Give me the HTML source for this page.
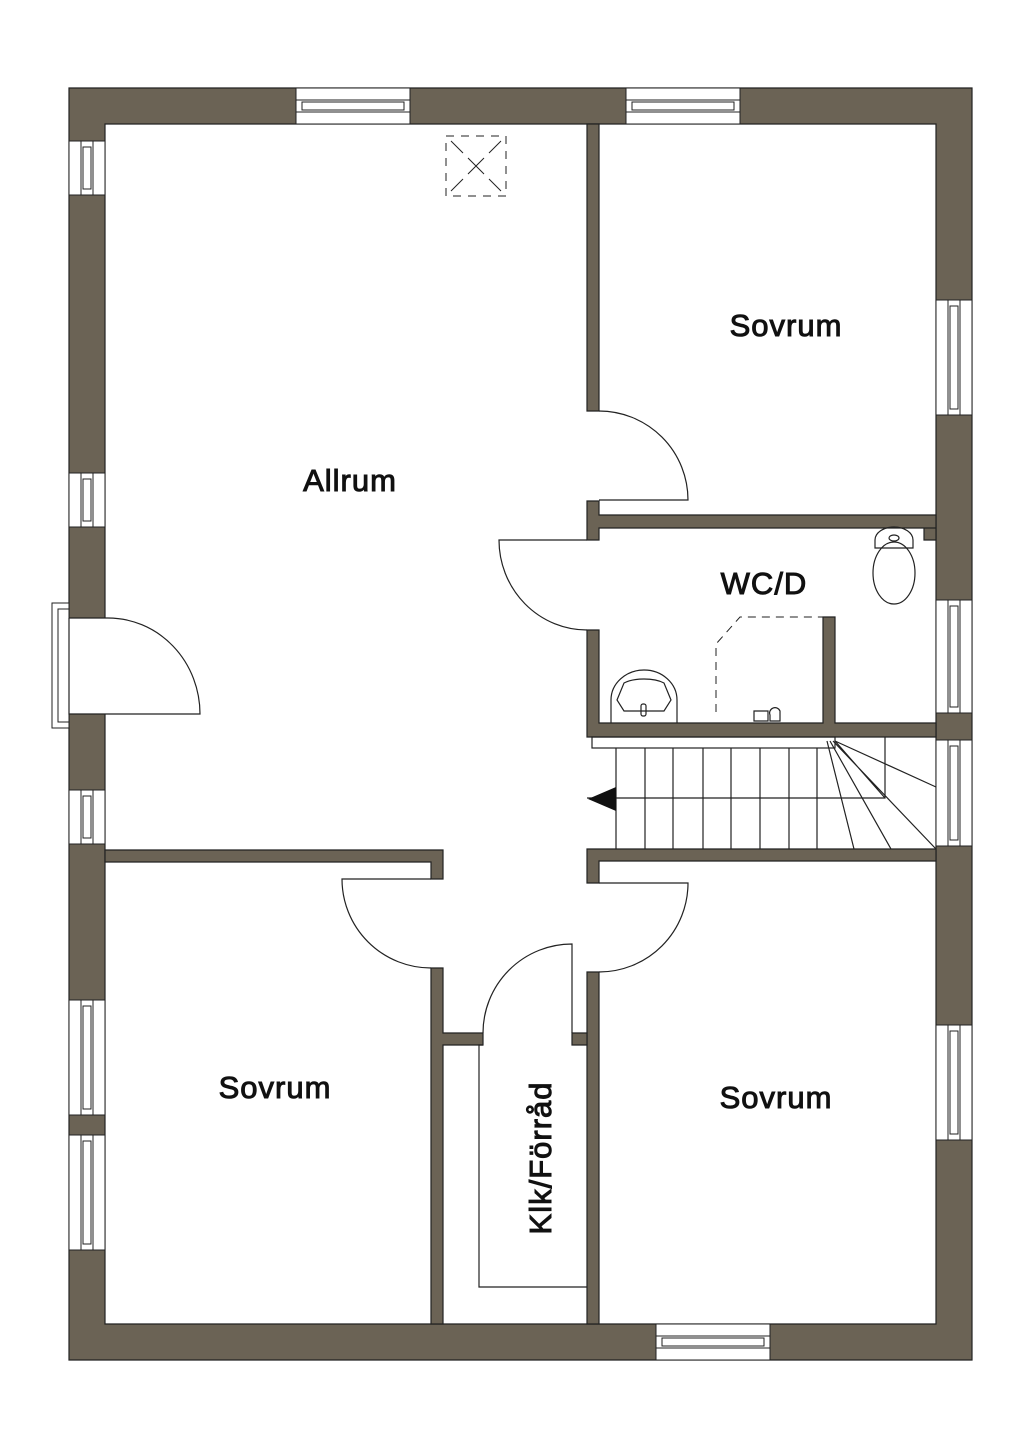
<!DOCTYPE html>
<html><head><meta charset="utf-8"><style>
html,body{margin:0;padding:0;background:#fff}
svg{display:block}
text{font-family:"Liberation Sans",sans-serif;font-size:31px;fill:#111;stroke:#111;stroke-width:1;letter-spacing:1px}
</style></head><body>
<svg width="1024" height="1448" viewBox="0 0 1024 1448" xmlns="http://www.w3.org/2000/svg">
<g fill="#6b6355" stroke="#222" stroke-width="1.2">
<path fill-rule="evenodd" d="M69 88H972V1360H69Z M105 124V1324H936V124Z"/>
<path d="M587 124H599V411H587Z"/>
<path d="M587 501H599V515H936V528H924V540H936V528H599V540H587Z"/>
<path d="M587 630H599V723H823V617H835V723H936V737H587Z"/>
<path d="M587 849H936V861H599V883H587Z"/>
<path d="M587 972H599V1324H587Z"/>
<path d="M105 850H443V879H431V862H105Z"/>
<path d="M431 968H443V1033H483V1045H443V1324H431Z"/>
<path d="M572 1033H587V1045H572Z"/>
</g>
<g fill="#fff" stroke="#222" stroke-width="1">
<rect x="296" y="88" width="114" height="36"/><rect x="296" y="100" width="114" height="12"/><rect x="302" y="102" width="102" height="8"/>
<rect x="626" y="88" width="114" height="36"/><rect x="626" y="100" width="114" height="12"/><rect x="632" y="102" width="102" height="8"/>
<rect x="656" y="1324" width="114" height="36"/><rect x="656" y="1336" width="114" height="12"/><rect x="662" y="1338" width="102" height="8"/>
<g id="lw">
<rect x="69" y="141" width="36" height="54"/><rect x="81" y="141" width="12" height="54"/><rect x="83" y="147" width="8" height="42"/>
</g>
<use href="#lw" transform="translate(0,332)"/>
<use href="#lw" transform="translate(0,649)"/>
<rect x="69" y="1000" width="36" height="115"/><rect x="81" y="1000" width="12" height="115"/><rect x="83" y="1006" width="8" height="103"/>
<rect x="69" y="1135" width="36" height="115"/><rect x="81" y="1135" width="12" height="115"/><rect x="83" y="1141" width="8" height="103"/>
<rect x="936" y="300" width="36" height="115"/><rect x="948" y="300" width="12" height="115"/><rect x="950" y="306" width="8" height="103"/>
<rect x="936" y="600" width="36" height="113"/><rect x="948" y="600" width="12" height="113"/><rect x="950" y="606" width="8" height="101"/>
<rect x="936" y="740" width="36" height="106"/><rect x="948" y="740" width="12" height="106"/><rect x="950" y="746" width="8" height="94"/>
<rect x="936" y="1025" width="36" height="115"/><rect x="948" y="1025" width="12" height="115"/><rect x="950" y="1031" width="8" height="103"/>
<path d="M69 603H52V728H69Z"/><path d="M69 609H58V722H69Z"/>
<rect x="69.5" y="618.5" width="37" height="95" stroke="none"/>
</g>
<g fill="none" stroke="#222" stroke-width="1.2">
<path d="M69 618V714H200A92 96 0 0 0 108 618H69"/>
<path d="M599 411A89 89 0 0 1 688 500H599"/>
<path d="M587 540H499A88 90 0 0 0 587 630"/>
<path d="M431 879H342A89 89 0 0 0 431 968"/>
<path d="M599 883H688A89 89 0 0 1 599 972"/>
<path d="M572 1033V944A89 89 0 0 0 483 1033"/>
<path d="M483 1045H479V1287H587"/>
<rect x="592" y="737" width="243" height="11"/>
<path d="M616 748V849M645 748V849M673 748V849M703 748V849M731 748V849M760 748V849M789 748V849M817 748V849"/>
<path d="M587 798H885V737"/>
<path d="M827 741L854 849M830 741L891 849M833 741L936 849M835 741L936 787M835 741L885 798"/>
<rect x="446" y="136" width="60" height="60" stroke-dasharray="8 7" stroke-width="1"/>
<path d="M451 141L463 153M501 141L489 153M451 191L463 179M501 191L489 179M468 158L476 166L484 158M468 174L476 166L484 174" stroke-width="1"/>
<path d="M716 712V644L740 617H823" stroke-dasharray="8 6" stroke-width="1"/>
<path d="M611 723V700A33 30 0 0 1 677 700V723"/>
<path d="M617 700L624 683A25 10 0 0 1 664 683L671 700L664 711H624Z"/>
<rect x="641" y="704" width="5" height="12" rx="2"/>
<path d="M875 540A19 13 0 0 1 913 540V548H875Z"/>
<ellipse cx="894" cy="573" rx="21" ry="31"/>
<ellipse cx="894" cy="538" rx="5" ry="3"/>
<path d="M754 711H768V721H754Z M770 715A5 5 0 0 1 780 711V721H770Z"/>
</g>
<path d="M588 799L616 787V811Z" fill="#111"/>
<text x="350" y="491" text-anchor="middle">Allrum</text>
<text x="786" y="336" text-anchor="middle">Sovrum</text>
<text x="764" y="594" text-anchor="middle">WC/D</text>
<text x="275" y="1098" text-anchor="middle">Sovrum</text>
<text x="776" y="1108" text-anchor="middle">Sovrum</text>
<text x="0" y="0" text-anchor="middle" transform="translate(551,1158) rotate(-90)">Klk/Förråd</text>
</svg>
</body></html>
